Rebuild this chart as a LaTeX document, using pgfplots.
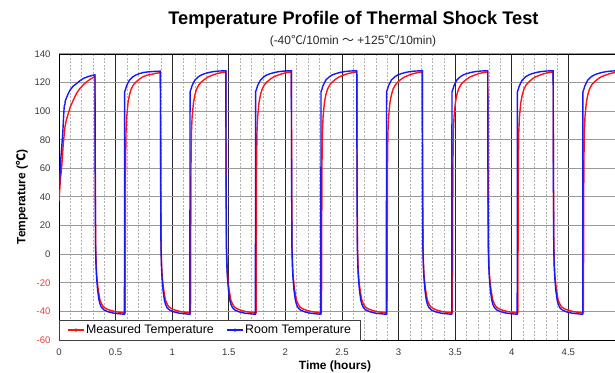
\documentclass[border=0pt]{standalone}
\usepackage{pgfplots}
\pgfplotsset{compat=1.18}
\usepackage{fontspec}
\setmainfont{Liberation Sans}
\newfontfamily\cjk{Noto Sans CJK SC}
\definecolor{meas}{RGB}{255,20,20}
\definecolor{room}{RGB}{25,25,245}
\definecolor{negred}{RGB}{235,60,60}
\begin{document}
\begin{tikzpicture}
\useasboundingbox (-59bp,-33bp) rectangle (556bp,340bp);
\begin{axis}[
  at={(0,0)}, anchor=south west,
  scale only axis, width=558bp, height=286bp,
  xmin=0, xmax=4.93, ymin=-60, ymax=140,
  xtick={0,0.5,1,1.5,2,2.5,3,3.5,4,4.5},
  xticklabels={0,0.5,1,1.5,2,2.5,3,3.5,4,4.5},
  ytick={-60,-40,-20,0,20,40,60,80,100,120,140},
  yticklabels={\textcolor{negred}{-60},\textcolor{negred}{-40},\textcolor{negred}{-20},0,20,40,60,80,100,120,140},
  minor x tick num=4,
  xmajorgrids, xminorgrids, ymajorgrids,
  major tick length=0pt, minor tick length=0pt,
  major x grid style={black!85, line width=0.9bp},
  minor x grid style={black!30, line width=0.4bp, dash pattern=on 2bp off 1.5bp},
  major y grid style={black!40, line width=1bp},
  axis line style={black, line width=0.9bp},
  tick label style={font=\fontsize{9.6}{11}\selectfont, text=black!78},
  xticklabel style={yshift=-5bp},
  yticklabel style={xshift=-5bp},
  legend style={at={(0,0)}, anchor=south west, draw=black!75, fill=white,
    font=\fontsize{12.4}{14}\selectfont, legend columns=2, inner xsep=8bp, inner ysep=2.5bp,
    nodes={inner xsep=1.5bp},
    /tikz/every even column/.append style={column sep=11bp}},
  legend cell align=left,
  legend image code/.code={\draw[mark repeat=2,mark phase=2,#1] plot coordinates {(0bp,0bp) (8bp,0bp) (16bp,0bp)};},
  legend image post style={mark=*, mark size=0.8bp},
]
\addplot[meas, line width=1.4bp, mark=none] coordinates {
(0,37) (0.012,52) (0.024,61) (0.038,77.4) (0.053,89) (0.065,94) (0.082,98.4) (0.1,103) (0.126,107.7) (0.155,112.5) (0.185,115.9) (0.215,118.5) (0.244,120.5) (0.275,122.3) (0.303,123.6) (0.318,124.2)
(0.321,50) (0.324,5) (0.328,-6) (0.332,-13.5) (0.338,-19) (0.347,-25) (0.362,-32) (0.378,-35) (0.392,-36.8) (0.418,-38.2) (0.451,-39.2) (0.498,-40.2) (0.576,-41)
(0.584,-41) (0.588,60) (0.592,85) (0.598,96) (0.610,106) (0.623,111.5) (0.638,115.5) (0.658,118.5) (0.681,120.5) (0.708,122.3) (0.740,124) (0.778,125.2) (0.818,125.8) (0.858,126.5) (0.896,127)
(0.899,50) (0.902,5) (0.906,-6) (0.910,-13.5) (0.916,-19) (0.925,-25) (0.940,-32) (0.956,-35) (0.970,-36.8) (0.996,-38.2) (1.029,-39.2) (1.076,-40.2) (1.154,-41)
(1.162,-41) (1.166,60) (1.170,85) (1.176,96) (1.188,106) (1.201,111.5) (1.216,115.5) (1.236,118.5) (1.259,120.5) (1.286,122.3) (1.318,124) (1.356,125.2) (1.396,126.3) (1.436,127) (1.474,127.5)
(1.477,50) (1.480,5) (1.484,-6) (1.488,-13.5) (1.494,-19) (1.503,-25) (1.518,-32) (1.534,-35) (1.548,-36.8) (1.574,-38.2) (1.607,-39.2) (1.654,-40.2) (1.732,-41)
(1.741,-41) (1.745,60) (1.749,85) (1.755,96) (1.767,106) (1.780,111.5) (1.795,115.5) (1.815,118.5) (1.838,120.5) (1.865,122.3) (1.897,124) (1.935,125.2) (1.975,126.3) (2.015,127) (2.053,127.5)
(2.056,50) (2.059,5) (2.063,-6) (2.067,-13.5) (2.073,-19) (2.082,-25) (2.097,-32) (2.113,-35) (2.127,-36.8) (2.153,-38.2) (2.186,-39.2) (2.233,-40.2) (2.311,-41)
(2.319,-41) (2.323,60) (2.327,85) (2.333,96) (2.345,106) (2.358,111.5) (2.373,115.5) (2.393,118.5) (2.416,120.5) (2.443,122.3) (2.475,124) (2.513,125.2) (2.553,126.3) (2.593,127) (2.631,127.5)
(2.634,50) (2.637,5) (2.641,-6) (2.645,-13.5) (2.651,-19) (2.660,-25) (2.675,-32) (2.691,-35) (2.705,-36.8) (2.731,-38.2) (2.764,-39.2) (2.811,-40.2) (2.889,-41)
(2.898,-41) (2.902,60) (2.906,85) (2.912,96) (2.924,106) (2.937,111.5) (2.952,115.5) (2.972,118.5) (2.995,120.5) (3.022,122.3) (3.054,124) (3.092,125.2) (3.132,126.3) (3.172,127) (3.210,127.5)
(3.213,50) (3.216,5) (3.220,-6) (3.224,-13.5) (3.230,-19) (3.239,-25) (3.254,-32) (3.270,-35) (3.284,-36.8) (3.310,-38.2) (3.343,-39.2) (3.390,-40.2) (3.468,-41)
(3.476,-41) (3.480,60) (3.484,85) (3.490,96) (3.502,106) (3.515,111.5) (3.530,115.5) (3.550,118.5) (3.573,120.5) (3.600,122.3) (3.632,124) (3.670,125.2) (3.710,126.3) (3.750,127) (3.788,127.5)
(3.791,50) (3.794,5) (3.798,-6) (3.802,-13.5) (3.808,-19) (3.817,-25) (3.832,-32) (3.848,-35) (3.862,-36.8) (3.888,-38.2) (3.921,-39.2) (3.968,-40.2) (4.046,-41)
(4.054,-41) (4.058,60) (4.062,85) (4.068,96) (4.080,106) (4.093,111.5) (4.108,115.5) (4.128,118.5) (4.151,120.5) (4.178,122.3) (4.210,124) (4.248,125.2) (4.288,126.3) (4.328,127) (4.366,127.5)
(4.369,50) (4.372,5) (4.376,-6) (4.380,-13.5) (4.386,-19) (4.395,-25) (4.410,-32) (4.426,-35) (4.440,-36.8) (4.466,-38.2) (4.499,-39.2) (4.546,-40.2) (4.624,-41)
(4.633,-41) (4.637,60) (4.641,85) (4.647,96) (4.659,106) (4.672,111.5) (4.687,115.5) (4.707,118.5) (4.730,120.5) (4.757,122.3) (4.789,124) (4.827,125.2) (4.867,126.3) (4.907,127) (4.945,127.5)
};
\addlegendentry{Measured Temperature}
\addplot[room, line width=1.4bp, mark=none] coordinates {
(0,44.8) (0.008,55) (0.015,65.7) (0.025,76) (0.033,84.4) (0.040,95) (0.044,100.7) (0.047,104) (0.052,104.5) (0.055,107) (0.062,108.5) (0.080,112) (0.097,114.7) (0.125,117.5) (0.156,119.4) (0.185,121.3) (0.215,122.9) (0.260,124.3) (0.303,125.2) (0.318,125.5)
(0.320,50) (0.323,5) (0.327,-8) (0.332,-16) (0.341,-25) (0.353,-32) (0.363,-35) (0.376,-37.3) (0.398,-39) (0.435,-40.3) (0.488,-41.3) (0.576,-42)
(0.578,-42) (0.580,113.5) (0.584,114.5) (0.588,115.3) (0.596,117.5) (0.607,119.4) (0.623,121.8) (0.652,124) (0.678,125.3) (0.711,126.3) (0.748,127.1) (0.788,127.5) (0.838,127.8) (0.896,128)
(0.898,50) (0.901,5) (0.905,-8) (0.910,-16) (0.919,-25) (0.931,-32) (0.941,-35) (0.954,-37.3) (0.976,-39) (1.013,-40.3) (1.066,-41.3) (1.154,-42)
(1.156,-42) (1.158,113.5) (1.162,114.5) (1.166,115.3) (1.174,117.5) (1.185,119.4) (1.201,121.8) (1.230,124) (1.256,125.3) (1.289,126.3) (1.326,127.1) (1.366,127.7) (1.416,128.1) (1.474,128.3)
(1.476,50) (1.479,5) (1.483,-8) (1.488,-16) (1.497,-25) (1.509,-32) (1.519,-35) (1.532,-37.3) (1.554,-39) (1.591,-40.3) (1.644,-41.3) (1.732,-42)
(1.735,-42) (1.737,113.5) (1.741,114.5) (1.745,115.3) (1.753,117.5) (1.764,119.4) (1.780,121.8) (1.809,124) (1.835,125.3) (1.868,126.3) (1.905,127.1) (1.945,127.7) (1.995,128.1) (2.053,128.3)
(2.055,50) (2.058,5) (2.062,-8) (2.067,-16) (2.076,-25) (2.088,-32) (2.098,-35) (2.111,-37.3) (2.133,-39) (2.170,-40.3) (2.223,-41.3) (2.311,-42)
(2.313,-42) (2.315,113.5) (2.319,114.5) (2.323,115.3) (2.331,117.5) (2.342,119.4) (2.358,121.8) (2.387,124) (2.413,125.3) (2.446,126.3) (2.483,127.1) (2.523,127.7) (2.573,128.1) (2.631,128.3)
(2.633,50) (2.636,5) (2.640,-8) (2.645,-16) (2.654,-25) (2.666,-32) (2.676,-35) (2.689,-37.3) (2.711,-39) (2.748,-40.3) (2.801,-41.3) (2.889,-42)
(2.892,-42) (2.894,113.5) (2.898,114.5) (2.902,115.3) (2.910,117.5) (2.921,119.4) (2.937,121.8) (2.966,124) (2.992,125.3) (3.025,126.3) (3.062,127.1) (3.102,127.7) (3.152,128.1) (3.210,128.3)
(3.212,50) (3.215,5) (3.219,-8) (3.224,-16) (3.233,-25) (3.245,-32) (3.255,-35) (3.268,-37.3) (3.290,-39) (3.327,-40.3) (3.380,-41.3) (3.468,-42)
(3.470,-42) (3.472,113.5) (3.476,114.5) (3.480,115.3) (3.488,117.5) (3.499,119.4) (3.515,121.8) (3.544,124) (3.570,125.3) (3.603,126.3) (3.640,127.1) (3.680,127.7) (3.730,128.1) (3.788,128.3)
(3.790,50) (3.793,5) (3.797,-8) (3.802,-16) (3.811,-25) (3.823,-32) (3.833,-35) (3.846,-37.3) (3.868,-39) (3.905,-40.3) (3.958,-41.3) (4.046,-42)
(4.048,-42) (4.050,113.5) (4.054,114.5) (4.058,115.3) (4.066,117.5) (4.077,119.4) (4.093,121.8) (4.122,124) (4.148,125.3) (4.181,126.3) (4.218,127.1) (4.258,127.7) (4.308,128.1) (4.366,128.3)
(4.368,50) (4.371,5) (4.375,-8) (4.380,-16) (4.389,-25) (4.401,-32) (4.411,-35) (4.424,-37.3) (4.446,-39) (4.483,-40.3) (4.536,-41.3) (4.624,-42)
(4.627,-42) (4.629,113.5) (4.633,114.5) (4.637,115.3) (4.645,117.5) (4.656,119.4) (4.672,121.8) (4.701,124) (4.727,125.3) (4.760,126.3) (4.797,127.1) (4.837,127.7) (4.887,128.1) (4.945,128.3)
};
\addlegendentry{Room Temperature}
\end{axis}
\node[font=\fontsize{18.3}{20}\selectfont\bfseries] at (294.5bp,320bp) {Temperature Profile of Thermal Shock Test};
\node[font=\fontsize{12}{13}\selectfont, text=black!85] at (294bp,299bp) {(-40{\cjk ℃}/10min {\cjk ～} +125{\cjk ℃}/10min)};
\node[rotate=90, font=\fontsize{12}{14}\selectfont\bfseries] at (-37bp,143bp) {Temperature ({\cjk ℃})};
\node[font=\fontsize{12}{14}\selectfont\bfseries] at (276bp,-26bp) {Time (hours)};
\end{tikzpicture}
\end{document}
